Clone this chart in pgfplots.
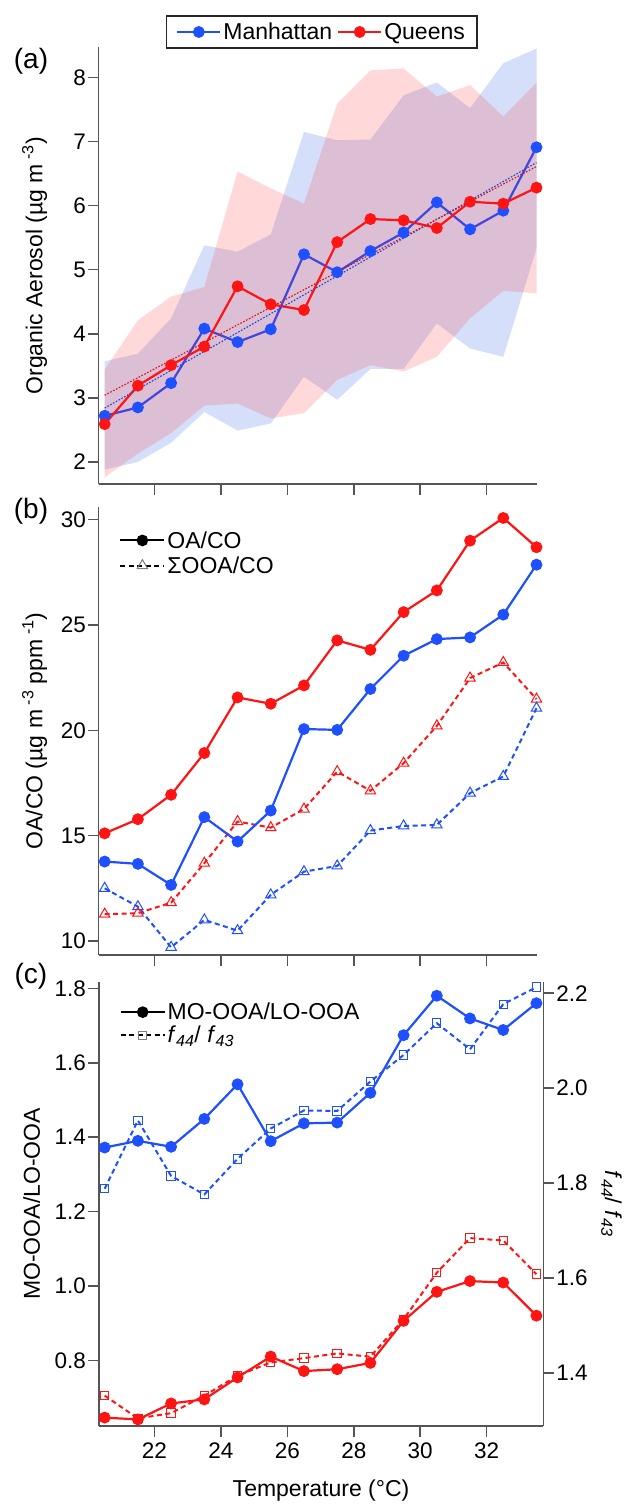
\documentclass[border=0pt]{standalone}
\usepackage{fontspec}
\setmainfont{Liberation Sans}
\usepackage{pgfplots}
\pgfplotsset{compat=1.18}
\definecolor{blueC}{RGB}{30,80,255}
\definecolor{redC}{RGB}{255,20,20}
\definecolor{bandB}{RGB}{20,75,230}
\definecolor{bandR}{RGB}{255,30,30}
\definecolor{axgray}{RGB}{85,85,85}
\definecolor{leggray}{RGB}{125,125,125}
\newcommand{\tickfont}{\fontsize{22.5}{26}\selectfont}
\newcommand{\labfont}{\fontsize{23}{27}\selectfont}
\pgfplotsset{
  myaxis/.style={
    scale only axis, clip=false,
    axis line style={draw=axgray, line width=1.6pt},
    tick style={draw=axgray, line width=1.6pt},
    tick align=outside, major tick length=10.7pt,
    tick label style={font=\tickfont},
    yticklabel style={inner xsep=2pt},
    label style={font=\labfont},
    /pgf/number format/assume math mode=true,
    xmin=20.32,
    xtick={22,24,26,28,30,32},
  },
  mainline/.style={line width=2.2pt, mark=*, mark size=4.8pt, mark options={solid}},
  dashline/.style={line width=2pt, dash pattern=on 5pt off 3.5pt},
}
\begin{document}
\begin{tikzpicture}
\useasboundingbox (0pt,0pt) rectangle (630pt,1505pt);

% ---------------- panel (a)
\begin{axis}[myaxis,
  at={(98.7pt,1020.7pt)}, anchor=south west,
  width=437.8pt, height=437pt,
  xmax=33.5, ymin=1.651, ymax=8.47,
  axis x line*=bottom, axis y line*=left,
  xticklabels={},
  ytick={2,3,4,5,6,7,8},
  ylabel={Organic Aerosol (µg m\textsuperscript{ -3})},
  ylabel style={at={(axis description cs:0,0.5)}, yshift=64pt, anchor=center},
  legend columns=2,
  legend style={at={(axis description cs:0.509,1.035)}, anchor=center, draw=black!85, line width=1.3pt, font=\labfont,
     inner xsep=10pt, inner ysep=5pt,
     /tikz/every even column/.append style={column sep=3pt}},
  legend image code/.code={\draw[mark repeat=2,mark phase=2,#1] plot coordinates {(0pt,0pt) (21.5pt,0pt) (43pt,0pt)};},
]
\addplot[draw=none, fill=bandB, fill opacity=0.18, forget plot] coordinates {
 (20.5,3.57) (21.5,3.69) (22.5,4.24) (23.5,5.38) (24.5,5.28) (25.5,5.55) (26.5,7.15)
 (27.5,7.02) (28.5,7.03) (29.5,7.72) (30.5,7.92) (31.5,7.52) (32.5,8.22) (33.5,8.45)
 (33.5,5.33) (32.5,3.64) (31.5,3.77) (30.5,4.16) (29.5,3.45) (28.5,3.45) (27.5,2.97)
 (26.5,3.33) (25.5,2.60) (24.5,2.49) (23.5,2.78) (22.5,2.30) (21.5,2.00) (20.5,1.88)};
\addplot[blueC, mainline] coordinates {
 (20.5,2.72) (21.5,2.85) (22.5,3.23) (23.5,4.08) (24.5,3.87) (25.5,4.07) (26.5,5.24)
 (27.5,4.96) (28.5,5.29) (29.5,5.58) (30.5,6.05) (31.5,5.63) (32.5,5.92) (33.5,6.91)};
\addlegendentry{Manhattan}
\addplot[draw=none, fill=bandR, fill opacity=0.17, forget plot] coordinates {
 (20.5,3.44) (21.5,4.21) (22.5,4.58) (23.5,4.73) (24.5,6.53) (25.5,6.27) (26.5,6.03)
 (27.5,7.59) (28.5,8.11) (29.5,8.14) (30.5,7.70) (31.5,7.88) (32.5,7.39) (33.5,7.92)
 (33.5,4.63) (32.5,4.67) (31.5,4.24) (30.5,3.64) (29.5,3.41) (28.5,3.51) (27.5,3.28)
 (26.5,2.76) (25.5,2.68) (24.5,2.91) (23.5,2.88) (22.5,2.45) (21.5,2.13) (20.5,1.76)};
\addplot[redC, mainline] coordinates {
 (20.5,2.59) (21.5,3.19) (22.5,3.51) (23.5,3.80) (24.5,4.74) (25.5,4.46) (26.5,4.37)
 (27.5,5.43) (28.5,5.79) (29.5,5.77) (30.5,5.65) (31.5,6.06) (32.5,6.03) (33.5,6.28)};
\addlegendentry{Queens}
\addplot[blueC!85!black, line width=1.1pt, dash pattern=on 1.6pt off 1.6pt, forget plot] coordinates {(20.5,2.84) (33.5,6.67)};
\addplot[redC!85!black, line width=1.1pt, dash pattern=on 1.6pt off 1.6pt, forget plot] coordinates {(20.5,3.04) (33.5,6.61)};
\end{axis}

% ---------------- panel (b)
\begin{axis}[myaxis,
  at={(98.7pt,550pt)}, anchor=south west,
  width=437.8pt, height=448pt,
  xmax=33.5, ymin=9.335, ymax=30.6,
  axis x line*=bottom, axis y line*=left,
  xticklabels={},
  ytick={10,15,20,25,30},
  ylabel={OA/CO (µg m\textsuperscript{ -3} ppm\textsuperscript{ -1})},
  ylabel style={at={(axis description cs:0,0.5)}, yshift=64pt, anchor=center},
  legend cell align=left,
  legend style={at={(axis description cs:0.04,0.955)}, anchor=north west, draw=none, fill=none, font=\labfont, row sep=3pt},
  legend image code/.code={\draw[mark repeat=2,mark phase=2,#1] plot coordinates {(0pt,0pt) (22pt,0pt) (44pt,0pt)};},
]
\addlegendimage{black, line width=2pt, mark=*, mark size=4.8pt}
\addlegendentry{OA/CO}
\addlegendimage{black, dashline, mark=triangle, mark size=6pt, mark options={solid, draw=leggray, line width=1pt}}
\addlegendentry{ΣOOA/CO}
\addplot[blueC, dashline, mark=triangle, mark size=6pt, mark options={solid, line width=1pt}, forget plot] coordinates {
 (20.5,12.50) (21.5,11.63) (22.5,9.70) (23.5,11.00) (24.5,10.49) (25.5,12.19) (26.5,13.29)
 (27.5,13.56) (28.5,15.24) (29.5,15.46) (30.5,15.51) (31.5,17.02) (32.5,17.81) (33.5,21.05)};
\addplot[redC, dashline, mark=triangle, mark size=6pt, mark options={solid, line width=1pt}, forget plot] coordinates {
 (20.5,11.27) (21.5,11.32) (22.5,11.82) (23.5,13.69) (24.5,15.67) (25.5,15.38) (26.5,16.26)
 (27.5,18.04) (28.5,17.13) (29.5,18.44) (30.5,20.21) (31.5,22.48) (32.5,23.22) (33.5,21.48)};
\addplot[blueC, mainline, forget plot] coordinates {
 (20.5,13.77) (21.5,13.66) (22.5,12.66) (23.5,15.88) (24.5,14.72) (25.5,16.19) (26.5,20.06)
 (27.5,20.02) (28.5,21.96) (29.5,23.54) (30.5,24.33) (31.5,24.41) (32.5,25.49) (33.5,27.86)};
\addplot[redC, mainline, forget plot] coordinates {
 (20.5,15.11) (21.5,15.78) (22.5,16.94) (23.5,18.92) (24.5,21.56) (25.5,21.26) (26.5,22.13)
 (27.5,24.27) (28.5,23.82) (29.5,25.61) (30.5,26.64) (31.5,29.00) (32.5,30.08) (33.5,28.69)};
\end{axis}

% ---------------- panel (c), right axis
\begin{axis}[myaxis,
  at={(98.7pt,79pt)}, anchor=south west,
  width=444.7pt, height=444pt,
  xmax=33.71, ymin=1.288, ymax=2.2238,
  axis x line=none, axis y line*=right,
  ytick={1.4,1.6,1.8,2.0,2.2},
  yticklabel style={/pgf/number format/fixed, /pgf/number format/fixed zerofill, /pgf/number format/precision=1},
  ylabel={\textit{f}\textsubscript{\textit{44}}/ \textit{f}\textsubscript{\textit{43}}},
  ylabel style={at={(axis description cs:1,0.5)}, yshift=-68pt, anchor=center, rotate=180},
]
\addplot[blueC, dashline, mark=square, mark size=4.2pt, mark options={solid, line width=1pt}] coordinates {
 (20.5,1.788) (21.5,1.932) (22.5,1.815) (23.5,1.776) (24.5,1.851) (25.5,1.915) (26.5,1.953)
 (27.5,1.952) (28.5,2.014) (29.5,2.070) (30.5,2.137) (31.5,2.082) (32.5,2.177) (33.5,2.213)};
\addplot[redC, dashline, mark=square, mark size=4.2pt, mark options={solid, line width=1pt}] coordinates {
 (20.5,1.352) (21.5,1.304) (22.5,1.315) (23.5,1.352) (24.5,1.394) (25.5,1.422) (26.5,1.431)
 (27.5,1.441) (28.5,1.434) (29.5,1.513) (30.5,1.611) (31.5,1.684) (32.5,1.679) (33.5,1.608)};
\end{axis}

% ---------------- panel (c), left axis
\begin{axis}[myaxis,
  at={(98.7pt,79pt)}, anchor=south west,
  width=444.7pt, height=444pt,
  xmax=33.71, ymin=0.6234, ymax=1.817,
  axis x line*=bottom, axis y line*=left,
  ytick={0.8,1.0,1.2,1.4,1.6,1.8},
  yticklabel style={/pgf/number format/fixed, /pgf/number format/fixed zerofill, /pgf/number format/precision=1},
  xticklabel style={yshift=-3pt},
  xlabel={Temperature (°C)},
  xlabel style={at={(axis description cs:0.5,0)}, yshift=-65pt, anchor=center},
  ylabel={MO-OOA/LO-OOA},
  ylabel style={at={(axis description cs:0,0.5)}, yshift=67pt, anchor=center},
  legend cell align=left,
  legend style={at={(axis description cs:0.04,0.962)}, anchor=north west, draw=none, fill=none, font=\labfont, row sep=1pt},
  legend image code/.code={\draw[mark repeat=2,mark phase=2,#1] plot coordinates {(0pt,0pt) (22pt,0pt) (44pt,0pt)};},
]
\addlegendimage{black, line width=2pt, mark=*, mark size=4.8pt}
\addlegendentry{MO-OOA/LO-OOA}
\addlegendimage{black, dashline, mark=square, mark size=4.2pt, mark options={solid, draw=leggray, line width=1pt}}
\addlegendentry{\textit{f}\textsubscript{\textit{44}}/ \textit{f}\textsubscript{\textit{43}}}
\addplot[blueC, mainline, forget plot] coordinates {
 (20.5,1.372) (21.5,1.390) (22.5,1.374) (23.5,1.449) (24.5,1.542) (25.5,1.389) (26.5,1.437)
 (27.5,1.439) (28.5,1.519) (29.5,1.674) (30.5,1.780) (31.5,1.719) (32.5,1.688) (33.5,1.760)};
\addplot[redC, mainline, forget plot] coordinates {
 (20.5,0.646) (21.5,0.641) (22.5,0.684) (23.5,0.695) (24.5,0.754) (25.5,0.810) (26.5,0.771)
 (27.5,0.776) (28.5,0.793) (29.5,0.906) (30.5,0.984) (31.5,1.013) (32.5,1.009) (33.5,0.920)};
\end{axis}

\node[font=\fontsize{28}{32}\selectfont] at (31pt,1444pt) {(a)};
\node[font=\fontsize{28}{32}\selectfont] at (31pt,994pt) {(b)};
\node[font=\fontsize{28}{32}\selectfont] at (31pt,529pt) {(c)};
\end{tikzpicture}
\end{document}
